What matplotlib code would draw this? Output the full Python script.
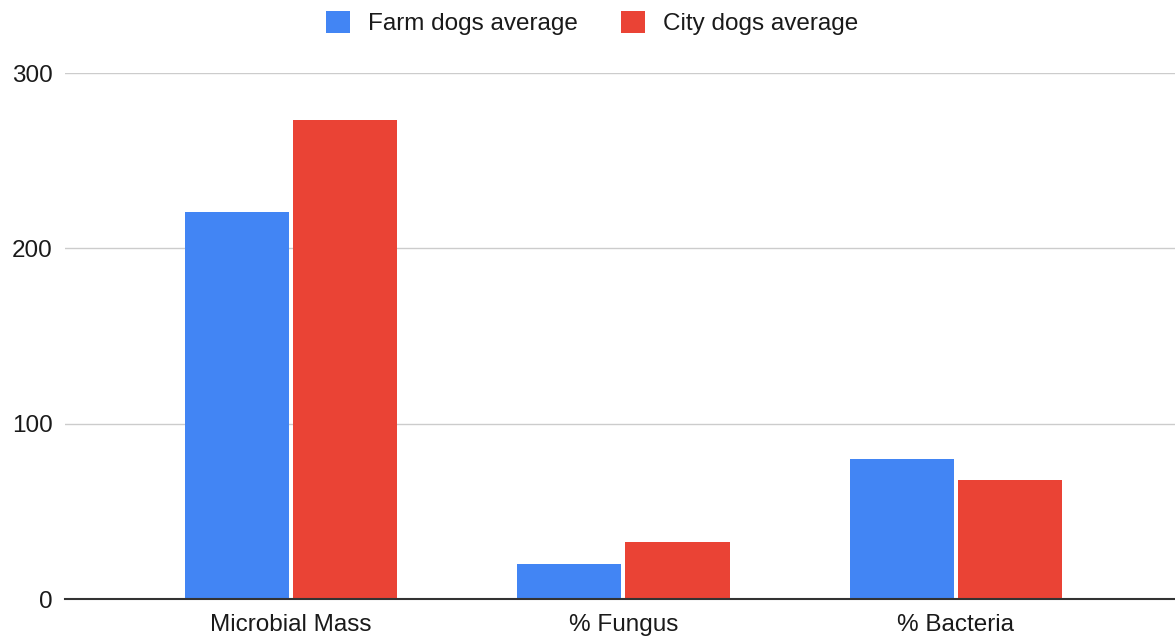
import matplotlib
matplotlib.use("Agg")
import matplotlib.pyplot as plt
from matplotlib.patches import Patch
import numpy as np

categories = ["Microbial Mass", "% Fungus", "% Bacteria"]
farm = [221, 20, 80]
city = [273, 32.5, 68]
series_names = ["Farm dogs average", "City dogs average"]
yticks = [0, 100, 200, 300]

plt.rcParams['font.family'] = ['Liberation Sans', 'DejaVu Sans']

fig = plt.figure(figsize=(11.75, 6.4), dpi=100)
ax = fig.add_axes([65/1175, 1-599/640, 1-65/1175, (599-73)/640])

x = np.arange(len(categories))
w = 0.313
gap = 0.006
c_blue = "#4285F4"
c_red = "#EA4335"
ax.bar(x - w/2 - gap, farm, width=w, color=c_blue, zorder=3)
ax.bar(x + w/2 + gap, city, width=w, color=c_red, zorder=3)

ax.set_xlim(-0.68, 2.659)
ax.set_ylim(0, 300)
ax.set_yticks(yticks)
ax.set_yticklabels([str(t) for t in yticks])
ax.set_xticks(x)
ax.set_xticklabels(categories)
ax.tick_params(axis='both', length=0, labelsize=17.5, labelcolor="#1a1a1a")
ax.tick_params(axis='y', pad=9)
ax.tick_params(axis='x', pad=11)
ax.grid(axis='y', color="#cccccc", linewidth=1, zorder=0)
for s in ['top', 'right', 'left']:
    ax.spines[s].set_visible(False)
ax.spines['bottom'].set_color("#333333")
ax.spines['bottom'].set_linewidth(1.5)
ax.spines['bottom'].set_zorder(4)

handles = [Patch(facecolor=c_blue, label=series_names[0]),
           Patch(facecolor=c_red, label=series_names[1])]
fig.legend(handles=handles, loc='center', bbox_to_anchor=(592/1175, 1-23/640),
           ncol=2, frameon=False, fontsize=17.5, handlelength=1.0, handleheight=1.0,
           handletextpad=0.75, columnspacing=1.75, labelcolor="#1a1a1a",
           borderpad=0, borderaxespad=0)

fig.savefig("out.png", dpi=100)
